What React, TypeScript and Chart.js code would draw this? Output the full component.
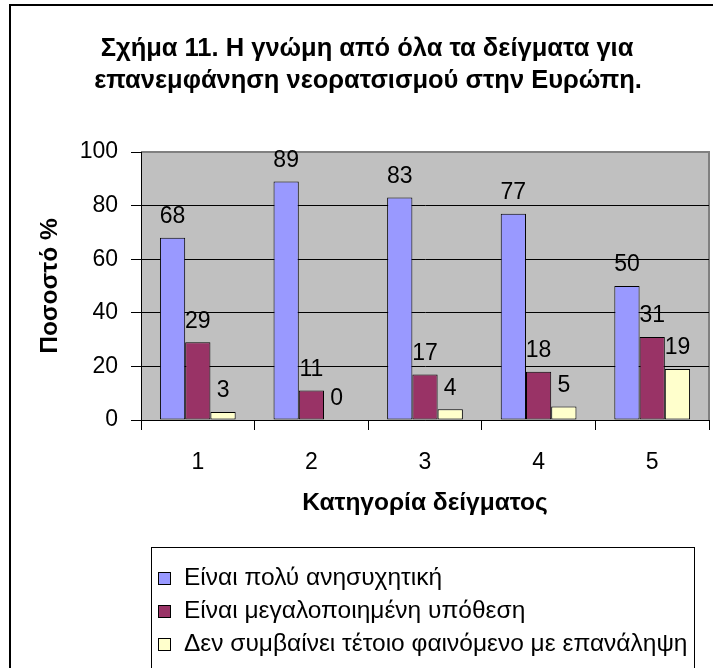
import React, { useEffect, useRef } from "react";
import { Chart, registerables } from "chart.js";

Chart.register(...registerables);

const categories = ["1", "2", "3", "4", "5"];
const seriesNames = [
  "Είναι πολύ ανησυχητική",
  "Είναι μεγαλοποιημένη υπόθεση",
  "Δεν συμβαίνει τέτοιο φαινόμενο με επανάληψη",
];
const veryWorrying = [68, 89, 83, 77, 50];
const exaggerated = [29, 11, 17, 18, 31];
const notHappening = [3, 0, 4, 5, 19];
const seriesColors = ["#9999FF", "#993366", "#FFFFCC"];
const titleLines = [
  "Σχήμα 11. Η γνώμη από όλα τα δείγματα για",
  "επανεμφάνηση νεορατσισμού στην Ευρώπη.",
];
const yAxisTitle = "Ποσοστό %";
const xAxisTitle = "Κατηγορία δείγματος";

const FONT = "Arial, 'Liberation Sans', sans-serif";

const decorPlugin = {
  id: "decor",
  beforeDraw(chart: any) {
    const { ctx, chartArea: a } = chart;
    ctx.save();
    ctx.fillStyle = "#C0C0C0";
    ctx.fillRect(a.left, a.top, a.right - a.left, a.bottom - a.top);
    ctx.strokeStyle = "#808080";
    ctx.lineWidth = 2;
    ctx.beginPath();
    ctx.moveTo(a.left, a.top);
    ctx.lineTo(a.right, a.top);
    ctx.lineTo(a.right, a.bottom);
    ctx.stroke();
    ctx.restore();
  },
  afterDraw(chart: any) {
    const { ctx } = chart;
    ctx.save();
    // outer frame
    ctx.strokeStyle = "#000";
    ctx.lineWidth = 2;
    ctx.strokeRect(10, 5, 760, 760);
    // title
    ctx.fillStyle = "#000";
    ctx.font = `bold 25.5px ${FONT}`;
    ctx.textAlign = "center";
    ctx.textBaseline = "middle";
    ctx.fillText(titleLines[0], 367, 49);
    ctx.fillText(titleLines[1], 368, 81);
    // data labels
    ctx.font = `23px ${FONT}`;
    chart.data.datasets.forEach((ds: any, i: number) => {
      const meta = chart.getDatasetMeta(i);
      meta.data.forEach((bar: any, j: number) => {
        ctx.fillText(String(ds.data[j]), bar.x, bar.y - 21);
      });
    });
    // legend
    ctx.lineWidth = 1;
    ctx.strokeRect(151.5, 547.5, 543, 200);
    ctx.textAlign = "left";
    ctx.textBaseline = "alphabetic";
    ctx.font = `24.5px ${FONT}`;
    const baselines = [585, 618, 651];
    chart.data.datasets.forEach((ds: any, i: number) => {
      const b = baselines[i];
      ctx.fillStyle = ds.backgroundColor;
      ctx.fillRect(158, b - 13, 13, 13);
      ctx.strokeStyle = "#000";
      ctx.strokeRect(158.5, b - 12.5, 12, 12);
      ctx.fillStyle = "#000";
      ctx.fillText(ds.label, 184, b);
    });
    ctx.restore();
  },
};

export default function App() {
  const ref = useRef<HTMLCanvasElement>(null);
  useEffect(() => {
    const datasets = [veryWorrying, exaggerated, notHappening].map((d, i) => ({
      label: seriesNames[i],
      data: d,
      backgroundColor: seriesColors[i],
      borderColor: "#000",
      borderWidth: 1,
      borderSkipped: false,
      barPercentage: 1,
      categoryPercentage: 3 / 4.5,
    }));
    const chart = new Chart(ref.current!, {
      type: "bar",
      data: { labels: categories, datasets },
      plugins: [decorPlugin],
      options: {
        animation: false,
        responsive: false,
        maintainAspectRatio: false,
        layout: { padding: { left: 0, top: 152, right: 4, bottom: 0 } },
        plugins: { legend: { display: false }, title: { display: false }, tooltip: { enabled: false } },
        scales: {
          x: {
            grid: { display: true, drawOnChartArea: false, drawTicks: true, tickLength: 10, color: "#000", offset: true },
            border: { display: true, color: "#000", width: 1 },
            ticks: { color: "#000", font: { family: FONT, size: 23 }, padding: 19 },
            title: {
              display: true,
              text: xAxisTitle,
              color: "#000",
              font: { family: FONT, size: 24.5, weight: "bold", lineHeight: 1.2 },
              padding: { top: 0, bottom: 150 },
            },
            afterFit: (s: any) => { s.height = 248; },
          },
          y: {
            min: 0,
            max: 100,
            ticks: { stepSize: 20, color: "#000", font: { family: FONT, size: 23 }, padding: 13 },
            grid: {
              color: (c: any) => (c.tick && c.tick.value === 100 ? "rgba(0,0,0,0)" : "#000"),
              tickColor: "#000",
              tickLength: 10,
              lineWidth: 1,
            },
            border: { display: true, color: "#000", width: 1 },
            title: {
              display: true,
              text: yAxisTitle,
              color: "#000",
              font: { family: FONT, size: 24.5, weight: "bold", lineHeight: 1.2 },
              padding: { top: 36, bottom: 0 },
            },
            afterFit: (s: any) => { s.width = 141; },
          },
        },
      },
    });
    return () => chart.destroy();
  }, []);
  return (
    <div style={{ position: "absolute", left: 0, top: 0, width: 713, height: 668, background: "#fff" }}>
      <canvas ref={ref} width={713} height={668} style={{ display: "block" }} />
    </div>
  );
}
